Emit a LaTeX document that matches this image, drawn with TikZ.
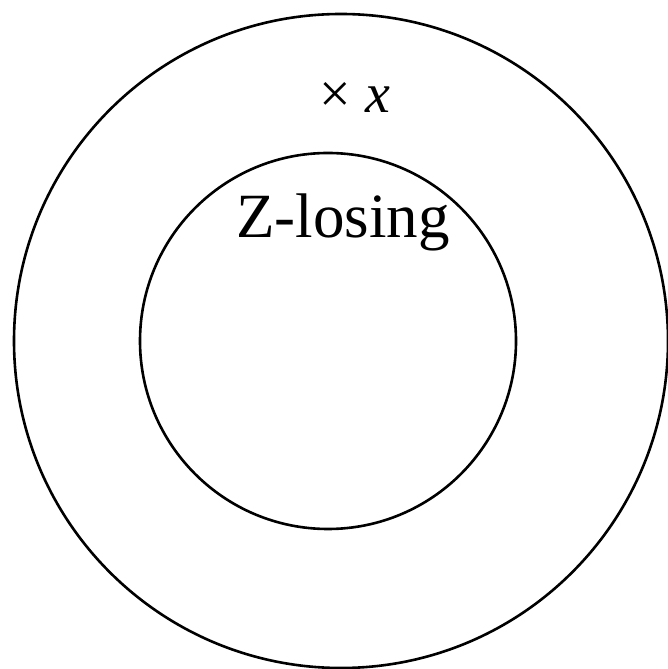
\documentclass[tikz,border=0pt]{standalone}
\usepackage{fontspec}
\setmainfont{Liberation Serif}
\begin{document}
\begin{tikzpicture}[x=1pt,y=1pt,ring/.style={draw=black,line width=2.6pt}]
\useasboundingbox (0,0) rectangle (668,669);
\node[ring,circle,minimum size=654pt,inner sep=0pt] (outer) at (341,328) {};
\node[ring,circle,minimum size=376pt,inner sep=0pt] (inner) at (328,328) {};
\node[anchor=base,inner sep=0pt,font=\fontsize{56}{60}\selectfont] (times) at (355,556) {× \textit{x}};
\node[anchor=base,inner sep=0pt,font=\fontsize{63}{70}\selectfont] (label) at (343,431) {Z-losing};
\end{tikzpicture}
\end{document}
